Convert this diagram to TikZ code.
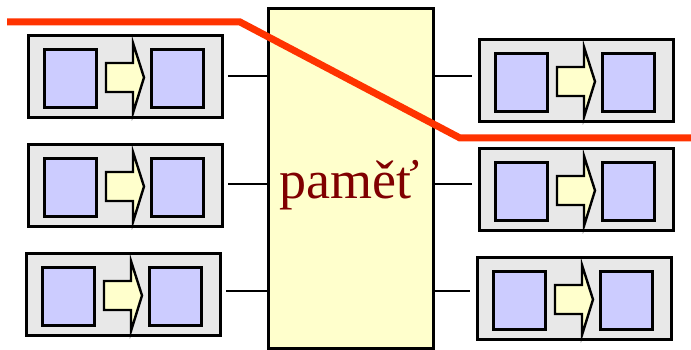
\documentclass[tikz,border=0pt]{standalone}
\usepackage{fontspec}
\setmainfont{Liberation Serif}
\definecolor{modbg}{HTML}{E8E8E8}
\definecolor{sqfill}{HTML}{CCCCFF}
\definecolor{lightyel}{HTML}{FFFFCC}
\definecolor{redline}{HTML}{FF3300}
\definecolor{textred}{HTML}{800000}
\tikzset{
  modbox/.style={draw=black, fill=modbg, line width=2.6pt, minimum width=194pt, minimum height=82pt, inner sep=0pt, anchor=north west},
  sqbox/.style={draw=black, fill=sqfill, line width=2.6pt, minimum width=52pt, minimum height=58pt, inner sep=0pt, anchor=north west},
  arrowshape/.style={draw=black, fill=lightyel, line width=2.4pt, line join=miter},
  membox/.style={draw=black, fill=lightyel, line width=2.6pt, minimum width=165pt, minimum height=340pt, inner sep=0pt, anchor=north west},
  link/.style={draw=black, line width=2.3pt},
  cutline/.style={draw=redline, line width=7pt},
  memlabel/.style={text=textred, font=\fontsize{54}{54}\selectfont, anchor=base, inner sep=0pt}
}
\newcommand\modulebox[3]{%
  \begin{scope}[shift={(#2,#3)}]
    \node[modbox] (#1) at (0,0) {};
    \node[sqbox] (#1a) at (16,14) {};
    \node[sqbox] (#1b) at (123,14) {};
    \draw[arrowshape] (79,29) -- (106,29) -- (106,9) -- (117,43.5) -- (106,79) -- (106,58) -- (79,58) -- cycle;
  \end{scope}}
\begin{document}
\begin{tikzpicture}[x=1pt,y=-1pt]
  \useasboundingbox (0,0) rectangle (691,350);
  \node[membox] (mem) at (267,7) {};
  \node[memlabel] (lbl) at (349.5,198) {paměť};
  \modulebox{L1}{27}{34}
  \modulebox{L2}{27}{143}
  \modulebox{L3}{25}{252}
  \modulebox{R1}{478}{38}
  \modulebox{R2}{478}{147}
  \modulebox{R3}{476}{256}
  \coordinate (mw1) at (267,76);
  \coordinate (mw2) at (267,184);
  \coordinate (mw3) at (267,291);
  \coordinate (me1) at (432,76);
  \coordinate (me2) at (432,184);
  \coordinate (me3) at (432,291);
  \draw[link, shorten >=4pt] (mw1) -- (mw1 -| L1.east);
  \draw[link, shorten >=4pt] (mw2) -- (mw2 -| L2.east);
  \draw[link, shorten >=4pt] (mw3) -- (mw3 -| L3.east);
  \draw[link, shorten >=6pt] (me1) -- (me1 -| R1.west);
  \draw[link, shorten >=6pt] (me2) -- (me2 -| R2.west);
  \draw[link, shorten >=6pt] (me3) -- (me3 -| R3.west);
  \coordinate (c0) at (7,22);
  \coordinate (c1) at (240,22);
  \coordinate (c2) at (460,138);
  \coordinate (c3) at (691,138);
  \draw[cutline] (c0) -- (c1) -- (c2) -- (c3);
\end{tikzpicture}
\end{document}
